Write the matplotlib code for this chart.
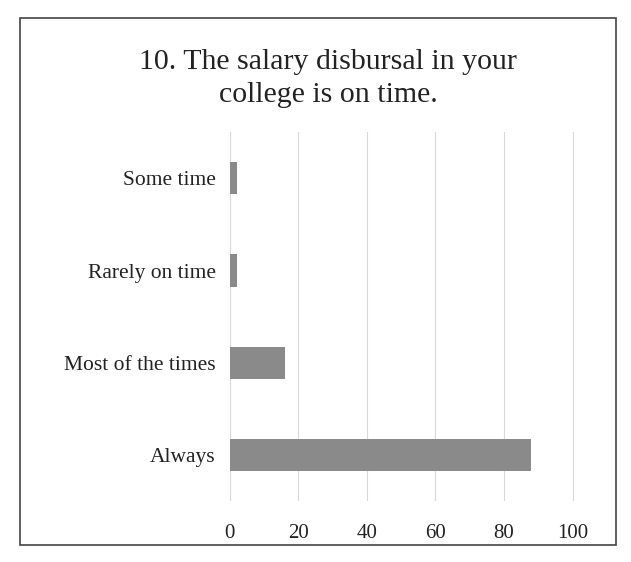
import matplotlib.pyplot as plt
from matplotlib.patches import Rectangle

# survey responses
categories = ["Always", "Most of the times", "Rarely on time", "Some time"]
values = [88, 16, 2, 2]
xticks = [0, 20, 40, 60, 80, 100]

plt.rcParams['font.family'] = ['Liberation Serif', 'DejaVu Serif']

fig = plt.figure(figsize=(6.31, 5.62), dpi=100)
ax = fig.add_axes([0.364, 0.108, 0.545, 0.657])

ax.barh(range(len(categories)), values, height=0.35, color="#8a8a8a", zorder=3)
ax.set_yticks(range(len(categories)))
ax.set_yticklabels(categories, fontsize=15.5)
ax.set_xticks(xticks)
ax.set_xticklabels([str(t) for t in xticks], fontsize=15)
ax.set_xlim(0, 100.3)
ax.set_ylim(-0.5, 3.5)
ax.grid(axis="x", color="#d9d9d9", linewidth=0.8, zorder=0)
for s in ax.spines.values():
    s.set_visible(False)
ax.tick_params(axis="both", length=0, colors="#222222")
ax.tick_params(axis="x", pad=16)
ax.tick_params(axis="y", pad=10)

fig.text(0.52, 0.86, "10. The salary disbursal in your\ncollege is on time.",
         ha="center", va="center", fontsize=21.5, color="#222222", linespacing=1.35)

# outer frame
fig.patches.append(Rectangle((0.032, 0.03), 0.944, 0.938, transform=fig.transFigure,
                             fill=False, edgecolor="#444444", linewidth=1.2))

fig.savefig("out.png", dpi=100)
